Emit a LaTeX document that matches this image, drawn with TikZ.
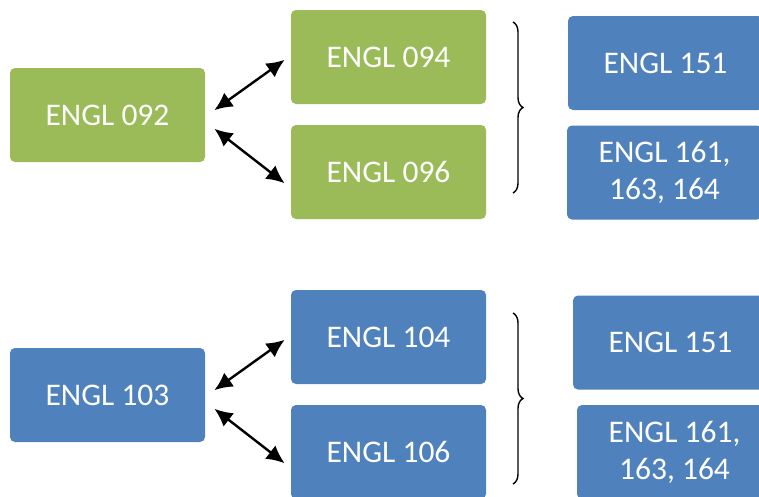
\documentclass[tikz,border=0pt]{standalone}
\usepackage{fontspec}
\setmainfont{Carlito}
\usetikzlibrary{arrows.meta,decorations.pathreplacing}
\definecolor{ogreen}{HTML}{9BBB59}
\definecolor{oblue}{HTML}{4F81BD}
\tikzset{
  box/.style={rounded corners=5pt, minimum width=195pt, minimum height=94pt, inner sep=0pt,
    text=white, font=\fontsize{31.5}{37}\selectfont, align=center},
  gbox/.style={box, fill=ogreen},
  bbox/.style={box, fill=oblue},
  link/.style={{Latex[length=18pt,width=17pt]}-{Latex[length=18pt,width=17pt]}, line width=2.4pt, shorten <=-2pt, shorten >=-2pt},
  brc/.style={decorate, decoration={brace, amplitude=10pt, aspect=0.5}, line width=1.4pt}
}
\begin{document}
\begin{tikzpicture}[x=1pt,y=-1pt]
\useasboundingbox (0,0) rectangle (759,496);
\clip (0,0) rectangle (759,496);
% top group
\node[gbox] (a092) at (107.5,115) {ENGL 092};
\node[gbox] (a094) at (388.5,57) {ENGL 094};
\node[gbox] (a096) at (388.5,172) {ENGL 096};
\node[bbox] (a151) at (665.5,63) {ENGL 151};
\node[bbox] (a161) at (664.5,172.5) {ENGL 161,\\163, 164};
\coordinate (t1) at (216,109);
\coordinate (t2) at (283,61);
\coordinate (t3) at (216,130);
\coordinate (t4) at (283,182);
\draw[link] (t1) -- (t2);
\draw[link] (t3) -- (t4);
\coordinate (b1) at (513,22);
\coordinate (b2) at (513,193);
\draw[brc] (b1) -- (b2);
% bottom group
\node[bbox] (a103) at (107.5,395) {ENGL 103};
\node[bbox] (a104) at (388.5,337) {ENGL 104};
\node[bbox] (a106) at (388.5,452) {ENGL 106};
\node[bbox] (b151) at (670.5,342.5) {ENGL 151};
\node[bbox] (b161) at (674.5,452) {ENGL 161,\\163, 164};
\coordinate (u1) at (216,389);
\coordinate (u2) at (283,341);
\coordinate (u3) at (216,410);
\coordinate (u4) at (283,462);
\draw[link] (u1) -- (u2);
\draw[link] (u3) -- (u4);
\coordinate (c1) at (513,313);
\coordinate (c2) at (513,484);
\draw[brc] (c1) -- (c2);
\end{tikzpicture}
\end{document}
